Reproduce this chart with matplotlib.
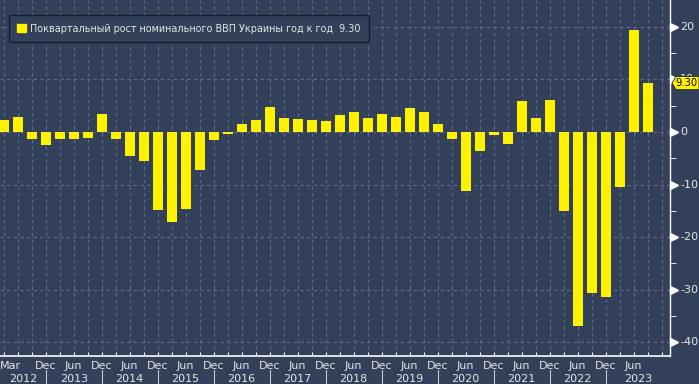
import matplotlib
matplotlib.use("Agg")
import matplotlib.pyplot as plt
from matplotlib.patches import Polygon
import matplotlib.transforms as mtransforms

# поквартальные данные, Mar 2012 .. Sep 2023
values = [2.3, 2.9, -1.3, -2.5, -1.3, -1.3, -1.1, 3.4, -1.3, -4.6, -5.5, -14.8,
          -17.1, -14.6, -7.2, -1.5, -0.3, 1.5, 2.3, 4.7, 2.7, 2.5, 2.3, 2.1,
          3.2, 3.8, 2.7, 3.4, 2.85, 4.6, 3.8, 1.5, -1.3, -11.2, -3.6, -0.6,
          -2.2, 5.9, 2.7, 6.1, -15.0, -36.8, -30.6, -31.4, -10.4, 19.4, 9.3]
month_labels = ["Mar"] + ["Dec", "Jun"] * 11 + ["Dec", "Jun"]
month_pos = [0] + [3 + 2 * k for k in range(23)] + [47]
years = ["2012", "2013", "2014", "2015", "2016", "2017", "2018", "2019",
         "2020", "2021", "2022", "2023"]
last_value = 9.30
series_name = "Поквартальный рост номинального ВВП Украины год к год"

bg = "#334059"
grid_c = "#5d6d8e"
txt_c = "#e6e6e6"
yellow = "#fff200"

plt.rcParams['font.family'] = ['DejaVu Sans']

fig = plt.figure(figsize=(6.99, 3.84), dpi=100)
fig.patch.set_facecolor(bg)
ax = fig.add_axes([0, 28 / 384, 670 / 699, 356 / 384])
ax.set_facecolor(bg)

x = list(range(len(values)))
ax.bar(x, values, width=0.71, color=yellow, edgecolor="none", zorder=3)

ax.set_xlim(-0.265, 47.6)
ax.set_ylim(-42.6, 25.1)

# сетка
ax.set_yticks([20, 10, 0, -10, -20, -30, -40])
ax.set_yticks([15, 5, -5, -15, -25, -35], minor=True)
ax.set_xticks(range(48))
ax.grid(True, which="major", color=grid_c, linestyle=(0, (3, 3)), linewidth=0.8, zorder=0)

for s in ["top", "left"]:
    ax.spines[s].set_visible(False)
ax.spines["bottom"].set_color("white")
ax.spines["right"].set_color("white")
ax.spines["bottom"].set_linewidth(1.2)
ax.spines["right"].set_linewidth(1.0)

ax.tick_params(axis="x", which="major", direction="in", length=3, color="white",
               labelbottom=False)
ax.yaxis.tick_right()
ax.tick_params(axis="y", which="major", length=0, labelright=False)
ax.tick_params(axis="y", which="minor", direction="out", length=4, color="white")

# подписи справа с треугольными метками
ytr = mtransforms.blended_transform_factory(ax.transAxes, ax.transData)
for v in [20, 10, 0, -10, -20, -30, -40]:
    ax.plot([1.0 + 4 / 670], [v], marker=">", markersize=6, color="white", mec="white",
            transform=ytr, clip_on=False, zorder=2)
    ax.text(1.0 + 10 / 670, v, f"{v}", transform=ytr, color=txt_c, fontsize=8,
            ha="left", va="center", zorder=1)

# метка последнего значения
x0 = 1.0 + 2 / 670
x1 = 1.0 + 29 / 670
h = 2.5
dx = 4 / 670
poly = Polygon([(x0, last_value), (x0 + dx, last_value + h / 2), (x1, last_value + h / 2),
                (x1, last_value - h / 2), (x0 + dx, last_value - h / 2)],
               closed=True, transform=ytr, clip_on=False, facecolor=yellow,
               edgecolor="#222222", linewidth=0.6, zorder=5)
ax.add_patch(poly)
ax.text(x0 + 3.5 / 670, last_value, f"{last_value:.2f}", transform=ytr, color="black",
        fontsize=7.2, ha="left", va="center", zorder=6)

# подписи месяцев и лет
xtr = mtransforms.blended_transform_factory(ax.transData, ax.transAxes)
for p, lab in zip(month_pos, month_labels):
    if lab == "Mar":
        ax.text(-0.25, -0.014, lab, transform=xtr, color=txt_c, fontsize=8,
                ha="left", va="top")
    elif p < 47:
        ax.text(p, -0.014, lab, transform=xtr, color=txt_c, fontsize=8,
                ha="center", va="top")
for i, yr in enumerate(years):
    start = -0.265 if i == 0 else 4 * i - 1
    end = 4 * i + 3 if i < len(years) - 1 else 47.6
    ax.text((start + end) / 2, -0.05, yr, transform=xtr, color=txt_c, fontsize=8,
            ha="center", va="top")
    if i < len(years) - 1:
        ax.plot([4 * i + 3, 4 * i + 3], [-0.04, -0.08], color="#c8c8c8", lw=0.8,
                transform=xtr, clip_on=False)

# легенда
leg = ax.legend([plt.Rectangle((0, 0), 1, 1, color=yellow)],
                [f"{series_name}  {last_value:.2f}"],
                loc="upper left", bbox_to_anchor=(0.006, 0.97), fontsize=6.9,
                frameon=True, handlelength=0.9, handleheight=0.9, handletextpad=0.5,
                borderpad=0.85, fancybox=True)
leg.get_frame().set_facecolor(bg)
leg.get_frame().set_edgecolor("#151c2a")
leg.get_frame().set_alpha(1)
for t in leg.get_texts():
    t.set_color(txt_c)

fig.savefig("out.png", dpi=100, facecolor=bg)
